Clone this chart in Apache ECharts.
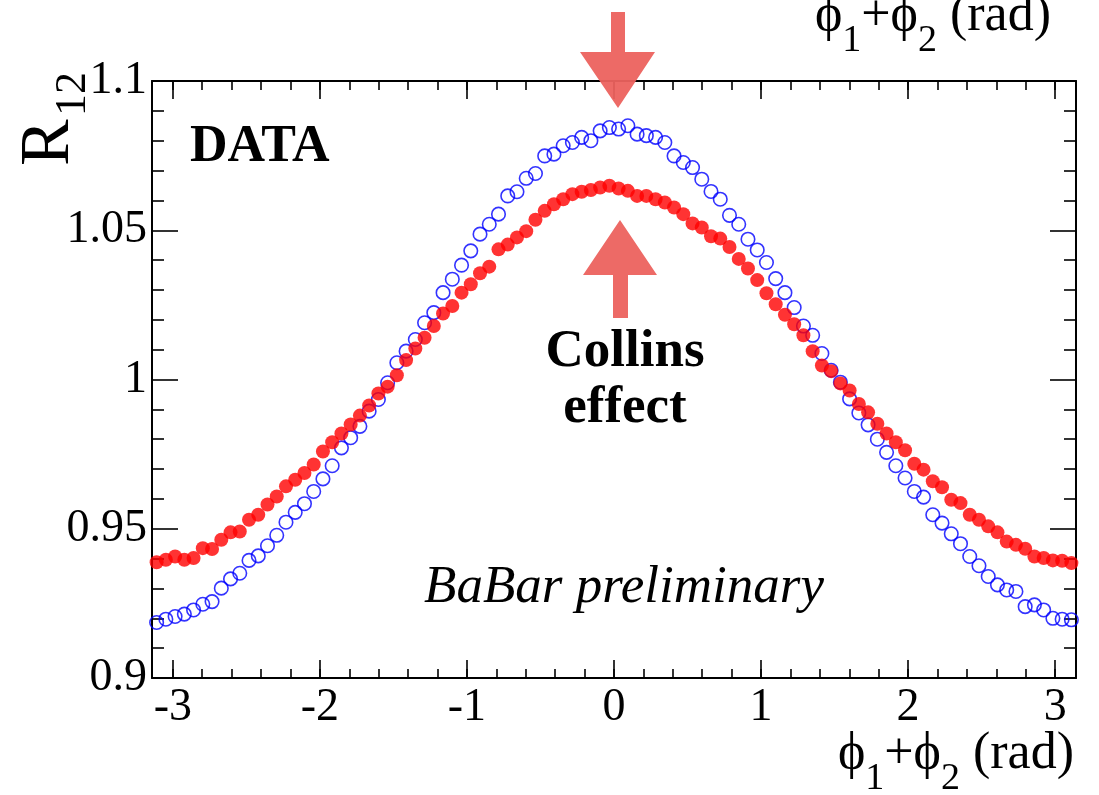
<!DOCTYPE html>
<html><head><meta charset="utf-8">
<script src="https://cdn.jsdelivr.net/npm/echarts@6/dist/echarts.min.js"></script>
<style>html,body{margin:0;padding:0;background:#fff}#c{width:1099px;height:795px}</style>
</head><body><div id="c"></div>
<script>
// ---- data ----
const nBins = 100;
const xMin = -Math.PI, xMax = Math.PI;
const yMin = 0.9, yMax = 1.1, yInterval = 0.05;
const xMajorTicks = [-3, -2, -1, 0, 1, 2, 3];
const xMinorTicks = [-3, -2.8, -2.6, -2.4, -2.2, -2, -1.8, -1.6, -1.4, -1.2, -1, -0.8, -0.6, -0.4, -0.2, 0,
  0.2, 0.4, 0.6, 0.8, 1, 1.2, 1.4, 1.6, 1.8, 2, 2.2, 2.4, 2.6, 2.8, 3];
// filled red points
const redValues = [
  0.9388, 0.9396, 0.9407, 0.9396, 0.9402, 0.9435, 0.9432, 0.9463, 0.9488, 0.9491,
  0.9530, 0.9547, 0.9581, 0.9608, 0.9642, 0.9664, 0.9687, 0.9715, 0.9759, 0.9790,
  0.9819, 0.9849, 0.9879, 0.9913, 0.9953, 0.9976, 1.0014, 1.0065, 1.0104, 1.0140,
  1.0179, 1.0221, 1.0246, 1.0291, 1.0319, 1.0356, 1.0378, 1.0436, 1.0452, 1.0476,
  1.0497, 1.0535, 1.0565, 1.0587, 1.0604, 1.0621, 1.0629, 1.0635, 1.0643, 1.0649,
  1.0640, 1.0632, 1.0615, 1.0615, 1.0604, 1.0593, 1.0576, 1.0554, 1.0523, 1.0509,
  1.0480, 1.0472, 1.0444, 1.0404, 1.0372, 1.0333, 1.0289, 1.0252, 1.0217, 1.0185,
  1.0148, 1.0095, 1.0047, 1.0028, 0.9987, 0.9963, 0.9918, 0.9890, 0.9852, 0.9819,
  0.9790, 0.9763, 0.9718, 0.9698, 0.9659, 0.9639, 0.9597, 0.9586, 0.9547, 0.9530,
  0.9508, 0.9488, 0.9457, 0.9446, 0.9433, 0.9407, 0.9402, 0.9394, 0.9393, 0.9385
];
// open blue circles
const blueValues = [
  0.9186, 0.9197, 0.9206, 0.9214, 0.9228, 0.9247, 0.9256, 0.9301, 0.9332, 0.9351,
  0.9394, 0.9409, 0.9443, 0.9478, 0.9522, 0.9555, 0.9584, 0.9625, 0.9667, 0.9711,
  0.9771, 0.9805, 0.9843, 0.9894, 0.9933, 0.9989, 1.0056, 1.0095, 1.0134, 1.0190,
  1.0224, 1.0291, 1.0336, 1.0383, 1.0431, 1.0487, 1.0520, 1.0554, 1.0615, 1.0629,
  1.0674, 1.0690, 1.0749, 1.0755, 1.0783, 1.0794, 1.0811, 1.0800, 1.0833, 1.0844,
  1.0839, 1.0850, 1.0822, 1.0817, 1.0811, 1.0794, 1.0749, 1.0727, 1.0710, 1.0671,
  1.0630, 1.0604, 1.0550, 1.0520, 1.0470, 1.0434, 1.0392, 1.0338, 1.0291, 1.0241,
  1.0179, 1.0148, 1.0087, 1.0031, 0.9991, 0.9935, 0.9888, 0.9848, 0.9800, 0.9756,
  0.9711, 0.9670, 0.9625, 0.9606, 0.9547, 0.9519, 0.9483, 0.9450, 0.9407, 0.9376,
  0.9340, 0.9312, 0.9295, 0.9290, 0.9239, 0.9245, 0.9228, 0.9200, 0.9197, 0.9195
];
const binCenters = redValues.map((_, i) => xMin + (i + 0.5) * (xMax - xMin) / nBins);

// ---- chart ----
const serif = "'Liberation Serif', 'DejaVu Serif', serif";
const chart = echarts.init(document.getElementById('c'), null, {renderer: 'canvas'});
const lineStyle = {color: '#000', width: 2};
const tickStyle = {color: '#000', width: 1.6};
function xAx(pos, ticks, len, showLine, showLabel) {
  return {
    type: 'value', position: pos, min: xMin, max: xMax,
    axisLine: {show: showLine, onZero: false, lineStyle},
    axisTick: {show: true, inside: true, length: len, customValues: ticks, lineStyle: tickStyle},
    axisLabel: showLabel ? {show: true, customValues: xMajorTicks, fontFamily: serif, fontSize: 46, color: '#000', margin: 7,
      formatter: v => String(v)} : {show: false},
    splitLine: {show: false}
  };
}
function yAx(pos, showLabel) {
  return {
    type: 'value', position: pos, min: yMin, max: yMax, interval: yInterval,
    axisLine: {show: true, onZero: false, lineStyle},
    axisTick: {show: true, inside: true, length: 26, lineStyle: tickStyle},
    minorTick: {show: true, splitNumber: 5, length: 12, lineStyle: tickStyle},
    axisLabel: showLabel ? {show: true, fontFamily: serif, fontSize: 46, color: '#000', margin: 5,
      formatter: v => String(parseFloat(v.toFixed(3)))} : {show: false},
    splitLine: {show: false}
  };
}

// axis title built from pieces (main text + subscripts), laid out right-to-left from an anchor
const mainFont = '52px ' + serif;
const subFont = '38px ' + serif;
const titlePieces = [['ϕ', false], ['1', true], ['+ϕ', false], ['2', true], [' (rad)', false]];
const mctx = document.createElement('canvas').getContext('2d');
function textWidth(t, f) { mctx.font = f; return mctx.measureText(t).width; }
function titleElements(rightX, baseline) {
  const widths = titlePieces.map(([t, s]) => textWidth(t, s ? subFont : mainFont));
  let x = rightX - widths.reduce((a, b) => a + b, 0);
  return titlePieces.map(([t, s], i) => {
    const size = s ? 38 : 52;
    const base = s ? baseline + 20 : baseline;
    const el = {type: 'text', x: x, y: base - 0.34 * size, z: 10,
      style: {text: t, font: s ? subFont : mainFont, fill: '#000', align: 'left', verticalAlign: 'middle'}};
    x += widths[i];
    return el;
  });
}
const arrowColor = '#ec625e';

chart.setOption({
  animation: false,
  backgroundColor: '#fff',
  grid: {left: 152, right: 23, top: 81, bottom: 117, containLabel: false, outerBoundsMode: 'none'},
  xAxis: [
    xAx('bottom', xMajorTicks, 18, true, true),
    xAx('bottom', xMinorTicks, 9, false, false),
    xAx('top', xMajorTicks, 18, true, false),
    xAx('top', xMinorTicks, 9, false, false)
  ],
  yAxis: [yAx('left', true), yAx('right', false)],
  series: [
    {type: 'scatter', xAxisIndex: 0, yAxisIndex: 0, symbol: 'circle', symbolSize: 13.5, z: 2, silent: true,
      itemStyle: {color: 'rgba(255,255,255,0)', borderColor: '#0000ff', borderWidth: 1.6},
      data: binCenters.map((x, i) => [x, blueValues[i]])},
    {type: 'scatter', xAxisIndex: 0, yAxisIndex: 0, symbol: 'circle', symbolSize: 14, z: 3, silent: true,
      itemStyle: {color: '#ff0000'},
      data: binCenters.map((x, i) => [x, redValues[i]])}
  ],
  graphic: [
    ...titleElements(1074, 772),
    ...titleElements(1051, 34),
    {type: 'text', x: 50, y: 166, rotation: Math.PI / 2, z: 10,
      style: {text: 'R', font: '70px ' + serif, fill: '#000', align: 'left', verticalAlign: 'middle'}},
    {type: 'text', x: 73, y: 116, rotation: Math.PI / 2, z: 10,
      style: {text: '12', font: '44px ' + serif, fill: '#000', align: 'left', verticalAlign: 'middle'}},
    {type: 'text', x: 190, y: 148, z: 10,
      style: {text: 'DATA', font: 'bold 52px ' + serif, fill: '#000', align: 'left', verticalAlign: 'middle'}},
    {type: 'text', x: 625, y: 352, z: 10,
      style: {text: 'Collins', font: 'bold 53px ' + serif, fill: '#000', align: 'center', verticalAlign: 'middle'}},
    {type: 'text', x: 625, y: 408, z: 10,
      style: {text: 'effect', font: 'bold 53px ' + serif, fill: '#000', align: 'center', verticalAlign: 'middle'}},
    {type: 'text', x: 624, y: 588, z: 10,
      style: {text: 'BaBar preliminary', font: 'italic 53px ' + serif, fill: '#000', align: 'center', verticalAlign: 'middle'}},
    {type: 'polygon', z: 11, shape: {points: [[611, 12], [625, 12], [625, 52], [655, 52], [618, 108], [580, 52], [611, 52]]},
      style: {fill: arrowColor, opacity: 0.95}},
    {type: 'polygon', z: 11, shape: {points: [[620, 220], [657, 275], [628, 275], [628, 318], [613, 318], [613, 275], [583, 275]]},
      style: {fill: arrowColor, opacity: 0.95}}
  ]
});
</script>
</body></html>
